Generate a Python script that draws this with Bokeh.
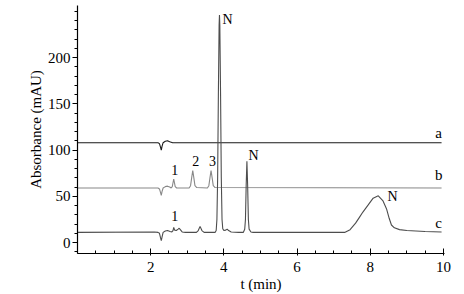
from bokeh.plotting import figure
from bokeh.models import FixedTicker, Label, Range1d
from bokeh.embed import file_html
from bokeh.resources import INLINE

# --- data (time in min, absorbance in mAU) ---
a_t = [0.0, 2.20, 2.24, 2.27, 2.29, 2.31, 2.34, 2.40, 2.46, 2.52, 2.60, 9.95]
a_y = [108, 108, 107, 103, 100, 104, 108, 109.5, 110, 109, 108, 108]

b_t = [0.0, 2.20, 2.24, 2.27, 2.29, 2.31, 2.34, 2.40, 2.46, 2.52,
       2.56, 2.59, 2.61, 2.63, 2.65, 2.67, 2.71,
       3.05, 3.09, 3.12, 3.15, 3.18, 3.21, 3.26,
       3.55, 3.59, 3.62, 3.65, 3.68, 3.71, 3.76,
       9.95]
b_y = [59, 59, 58, 54, 51, 55, 59, 60.5, 61, 60,
       59, 60.4, 64.7, 68.6, 64.7, 60.4, 59,
       59, 61.5, 70, 77.9, 70, 61.5, 59.5,
       59, 61.5, 70, 77.9, 70, 61.5, 59.5,
       59]

c_t = [0.0, 2.10, 2.20, 2.24, 2.27, 2.29, 2.31, 2.34, 2.40, 2.46, 2.53,
       2.58, 2.61, 2.63, 2.655, 2.70, 2.75, 2.78, 2.81, 2.86, 2.95,
       3.25, 3.30, 3.35, 3.40, 3.46,
       3.76, 3.79, 3.81, 3.83, 3.85, 3.87, 3.88, 3.89, 3.91, 3.93, 3.95, 3.97,
       4.00, 4.05, 4.09, 4.13, 4.20, 4.40,
       4.53, 4.57, 4.59, 4.61, 4.63, 4.65, 4.67, 4.69, 4.74, 4.80,
       7.30, 7.45, 7.60, 7.70, 7.80, 7.95, 8.08, 8.22, 8.35, 8.45, 8.52,
       8.58, 8.66, 8.80, 9.00, 9.50, 9.95]
c_y = [11, 11.5, 11, 10, 5, 2, 6, 11, 12.5, 13, 12,
       11.5, 13, 16.5, 13.5, 13, 14.5, 15.5, 14, 11.5, 11,
       11, 13, 17.5, 13, 11,
       11, 13, 25, 70, 160, 235, 246, 235, 160, 70, 25, 15,
       13, 13.5, 14.5, 13, 11.5, 11,
       11, 14.5, 25, 62, 88, 62, 25, 14.5, 11.5, 11,
       11, 14, 21, 27, 33, 41, 48, 50.5, 45, 36, 26,
       19, 16, 14, 13, 12, 11.5]

x_ticks = [2, 4, 6, 8, 10]
y_ticks = [0, 50, 100, 150, 200]

trace_labels = ["a", "b", "c"]
trace_label_x = [9.87, 9.87, 9.87]
trace_label_y = [119, 73, 21.5]

peak_labels = ["1", "2", "3", "N", "1", "N", "N"]
peak_label_x = [2.66, 3.23, 3.69, 4.81, 2.66, 4.10, 8.61]
peak_label_y = [78.6, 88, 88, 94.2, 28.3, 241, 49.5]

FONT = "'Liberation Serif', 'Times New Roman', serif"

p = figure(width=464, height=294, output_backend="svg", toolbar_location=None,
           x_range=Range1d(0, 10.03), y_range=Range1d(-11.8, 256.3),
           min_border_left=77, min_border_right=20, min_border_top=5,
           min_border_bottom=40)
p.outline_line_color = None
p.grid.visible = False
p.background_fill_color = "white"

p.line(a_t, a_y, line_color="#1a1a1a", line_width=1.1)
p.line(b_t, b_y, line_color="#888888", line_width=1.1)
p.line(c_t, c_y, line_color="#4d4d4d", line_width=1.1)

p.xaxis.ticker = FixedTicker(ticks=x_ticks,
                             minor_ticks=[i * 0.5 for i in range(0, 21)])
p.yaxis.ticker = FixedTicker(ticks=y_ticks,
                             minor_ticks=[i * 10 for i in range(-1, 26)])

for ax in (p.xaxis[0], p.yaxis[0]):
    ax.axis_line_color = "black"
    ax.axis_line_width = 1.2
    ax.major_tick_line_color = "black"
    ax.minor_tick_line_color = "black"
    ax.major_label_text_font = FONT
    ax.major_label_text_font_size = "15px"
    ax.major_label_text_color = "black"
    ax.axis_label_text_font = FONT
    ax.axis_label_text_font_size = "15px"
    ax.axis_label_text_font_style = "normal"
    ax.axis_label_text_color = "black"

p.xaxis.major_tick_in = 5
p.xaxis.major_tick_out = 2
p.xaxis.minor_tick_in = 3
p.xaxis.minor_tick_out = 0
p.xaxis.major_label_standoff = 6
p.xaxis.axis_label = "t (min)"
p.xaxis.axis_label_standoff = 1

p.yaxis.major_tick_in = 0
p.yaxis.major_tick_out = 5
p.yaxis.minor_tick_in = 0
p.yaxis.minor_tick_out = 3
p.yaxis.major_label_standoff = 2
p.yaxis.axis_label = "Absorbance (mAU)"
p.yaxis.axis_label_standoff = 1

for t, x, y in zip(trace_labels, trace_label_x, trace_label_y):
    p.add_layout(Label(x=x, y=y, text=t, text_font=FONT, text_font_size="15px",
                       text_align="center", text_baseline="middle",
                       text_color="black"))
for t, x, y in zip(peak_labels, peak_label_x, peak_label_y):
    p.add_layout(Label(x=x, y=y, text=t, text_font=FONT, text_font_size="14px",
                       text_align="center", text_baseline="middle",
                       text_color="black"))

open("out.html", "w").write(file_html(p, INLINE))
